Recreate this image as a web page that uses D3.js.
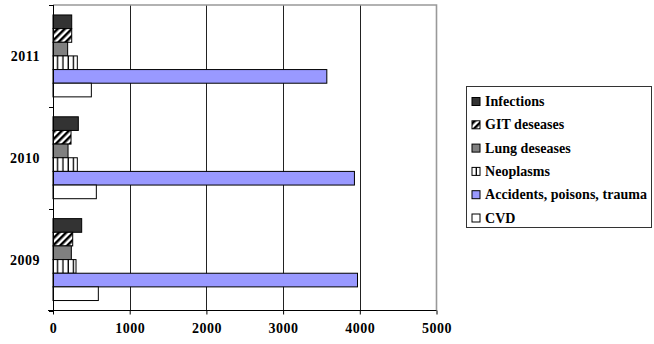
<!DOCTYPE html>
<html><head><meta charset="utf-8">
<script src="https://cdn.jsdelivr.net/npm/d3@7"></script>
<style>body{margin:0;background:#fff}svg{display:block}</style>
</head><body><svg id="c" width="654" height="344"></svg>
<script>
const years = ["2011", "2010", "2009"];
const seriesNames = ["Infections", "GIT deseases", "Lung deseases", "Neoplasms", "Accidents, poisons, trauma", "CVD"];
const infections = [244, 330, 374];
const git = [244, 235, 257];
const lung = [191, 196, 239];
const neoplasms = [317, 317, 300];
const accidents = [3570, 3930, 3970];
const cvd = [500, 565, 591];
const xTicks = [0, 1000, 2000, 3000, 4000, 5000];

const seriesValues = [infections, git, lung, neoplasms, accidents, cvd];
const fills = ["#333333", "url(#diag)", "#808080", "url(#vert)", "#9999ff", "#ffffff"];
const FONT = '"Liberation Serif", "Times New Roman", Tinos, serif';

const svg = d3.select("#c");
const defs = svg.append("defs");
const pd = defs.append("pattern").attr("id", "diag").attr("patternUnits", "userSpaceOnUse")
  .attr("width", 5).attr("height", 5).attr("patternTransform", "rotate(45)");
pd.append("rect").attr("width", 5).attr("height", 5).attr("fill", "#fff");
pd.append("rect").attr("width", 2.5).attr("height", 5).attr("fill", "#000");
const pv = defs.append("pattern").attr("id", "vert").attr("patternUnits", "userSpaceOnUse")
  .attr("width", 5.3).attr("height", 10).attr("x", 53);
pv.append("rect").attr("width", 5.3).attr("height", 10).attr("fill", "#fff");
pv.append("rect").attr("x", 4).attr("width", 1.4).attr("height", 10).attr("fill", "#000");

const L = 53, R = 436.5, T = 5, B = 310.5;
const x = d3.scaleLinear().domain([0, 5000]).range([L, R]);
const y0 = d3.scaleBand().domain(years).range([T, B]);
const y1 = d3.scaleBand().domain(seriesNames).range([0, y0.bandwidth()]).paddingInner(0).paddingOuter(0.73);

// gridlines
svg.append("g").selectAll("line").data(xTicks.filter(t => t > 0 && t < 5000)).join("line")
  .attr("x1", d => Math.round(x(d)) + 0.5).attr("x2", d => Math.round(x(d)) + 0.5)
  .attr("y1", T).attr("y2", B).attr("stroke", "#222").attr("stroke-width", 1);
// top & right border
svg.append("path").attr("d", `M${L},${T}H${R}V${B}`).attr("fill", "none")
  .attr("stroke", "#999").attr("stroke-width", 1.6);

// bars
const g = svg.append("g");
years.forEach((yr, i) => {
  seriesNames.forEach((s, j) => {
    g.append("rect")
      .attr("x", x(0)).attr("y", y0(yr) + y1(s))
      .attr("width", x(seriesValues[j][i]) - x(0)).attr("height", y1.bandwidth())
      .attr("fill", fills[j]).attr("stroke", "#000").attr("stroke-width", 1);
  });
});

function fitSpacing(sel, target) {
  // spread letters so that the widest text reaches target width
  let maxW = 0, maxN = 1;
  sel.each(function () { const w = this.getComputedTextLength(); if (w > maxW) { maxW = w; maxN = this.textContent.length; } });
  const ls = Math.max(0, (target - maxW) / maxN);
  sel.style("letter-spacing", ls + "px");
}

// x axis
const xa = svg.append("g").attr("transform", `translate(0,${B})`)
  .call(d3.axisBottom(x).tickValues(xTicks).tickFormat(d3.format("d")).tickSize(4).tickSizeOuter(0).tickPadding(9));
xa.select(".domain").remove();
xa.append("line").attr("x1", 48).attr("x2", R).attr("stroke", "#000");
xa.selectAll(".tick line").attr("stroke", "#000");
const xt = xa.selectAll("text").attr("fill", "#000")
  .style("font-family", FONT).style("font-weight", "bold").style("font-size", "14px");
fitSpacing(xt, 30);

// y axis
svg.append("line").attr("x1", L + 0.5).attr("x2", L + 0.5).attr("y1", T).attr("y2", B).attr("stroke", "#000");
const bounds = [T].concat(years.map(yr => y0(yr) + y0.bandwidth()));
svg.append("g").selectAll("line").data(bounds).join("line")
  .attr("x1", L - 4).attr("x2", L).attr("y1", d => Math.round(d) + 0.5).attr("y2", d => Math.round(d) + 0.5)
  .attr("stroke", "#000");
const yt = svg.append("g").selectAll("text").data(years).join("text")
  .attr("x", 40).attr("y", d => y0(d) + y0.bandwidth() / 2 + 5)
  .attr("text-anchor", "end").attr("fill", "#000")
  .style("font-family", FONT).style("font-weight", "bold").style("font-size", "14px")
  .text(d => d);
fitSpacing(yt, 30);

// legend
const lg = svg.append("g");
lg.append("rect").attr("x", 466.5).attr("y", 86.5).attr("width", 185).attr("height", 141)
  .attr("fill", "#fff").attr("stroke", "#333").attr("stroke-width", 1);
seriesNames.forEach((s, j) => {
  const cy = 101.5 + j * 23.3;
  lg.append("rect").attr("x", 472).attr("y", cy - 4).attr("width", 8).attr("height", 8)
    .attr("fill", fills[j]).attr("stroke", "#000");
  lg.append("text").attr("class", "lt").attr("x", 485).attr("y", cy + 4.5).attr("fill", "#000")
    .style("font-family", FONT).style("font-weight", "bold").style("font-size", "14px")
    .text(s);
});
fitSpacing(lg.selectAll("text.lt"), 162);
</script></body></html>
